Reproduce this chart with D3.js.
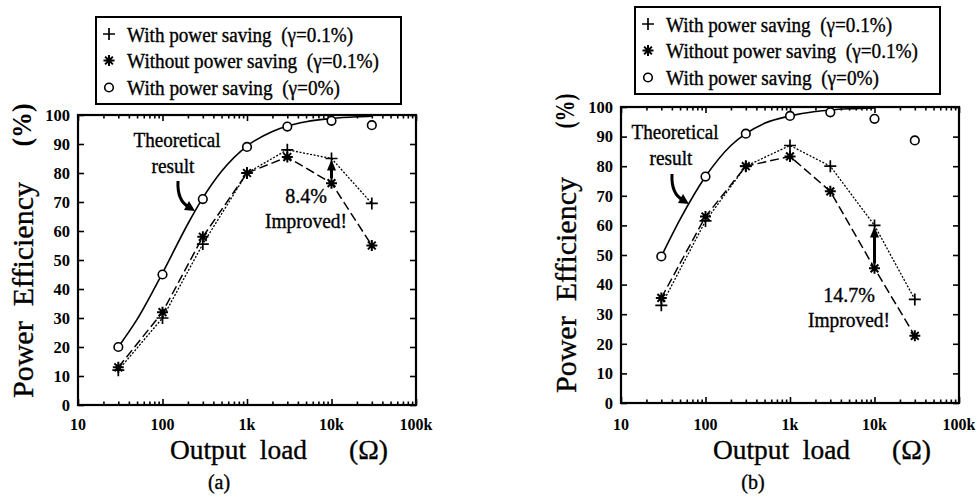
<!DOCTYPE html>
<html>
  <head>
    <meta charset="utf-8">
    <title>Power efficiency vs output load</title>
    <script src="https://d3js.org/d3.v7.min.js"></script>
    <style>
      body { margin: 0; background: #fff; }
      svg { display: block; }
      text { white-space: pre; }
    </style>
  </head>
  <body>
    <svg></svg>

    <script>
      // cargas medidas (ohm)
      const loads = [30, 100, 300, 1000, 3000, 10000, 30000]

      // painel (a)
      const aWith = [12, 30, 55.5, 80, 88, 85, 69.5]
      const aWithout = [13, 32, 58, 80, 85.5, 76.5, 55]
      const aIdeal = [20, 45, 71, 89, 96, 98, 96.5]
      const aTheoryLoads = [30, 50, 100, 200, 300, 500, 1000, 2000, 3000, 5000, 10000, 20000, 30000]
      const aTheory = [20, 29.5, 45.5, 62.5, 71.4, 80.6, 89.3, 94.3, 96.2, 97.7, 98.8, 99.4, 99.6]

      // painel (b)
      const bWith = [33, 61.5, 80, 87, 80, 60, 35]
      const bWithout = [35.5, 63, 80, 83.3, 71.5, 45.5, 22.7]
      const bIdeal = [49.5, 76.5, 91, 97, 98.2, 96, 88.7]
      const bTheoryLoads = [30, 50, 100, 200, 300, 500, 1000, 2000, 3000, 5000, 10000]
      const bTheory = [49.5, 62, 76.5, 87, 91, 94.5, 97, 98.5, 99, 99.4, 99.7]

      // rótulos
      const xTickValues = [10, 100, 1000, 10000, 100000]
      const xTickLabels = ['10', '100', '1k', '10k', '100k']
      const yTickValues = [0, 10, 20, 30, 40, 50, 60, 70, 80, 90, 100]
      const legendLabels = [
        'With power saving  (\u03b3=0.1%)',
        'Without power saving  (\u03b3=0.1%)',
        'With power saving  (\u03b3=0%)'
      ]

      const FONT = 'Liberation Serif'

      const svg = d3.select('svg')
        .attr('width', 979)
        .attr('height', 497)

      // todo texto passa por aqui para garantir a fonte
      function label(g, s, size, bold) {
        const t = g.append('text')
          .attr('font-family', FONT)
          .attr('font-size', size)
          .attr('font-weight', bold ? 'bold' : 'normal')
          .attr('fill', '#000')
          .text(s)
        // o original é uma figura escaneada, com traço mais pesado
        if (!bold) t.attr('stroke', '#000').attr('stroke-width', 0.35)
        return t
      }

      // marcadores
      function plus(g, x, y) {
        g.append('path')
          .attr('d', `M${x - 6},${y}H${x + 6}M${x},${y - 6}V${y + 6}`)
          .attr('stroke', '#000').attr('stroke-width', 1.7)
      }
      function star(g, x, y) {
        const r = 5.5, s = r * Math.SQRT1_2
        g.append('path')
          .attr('d', `M${x - r},${y}H${x + r}M${x},${y - r}V${y + r}` +
            `M${x - s},${y - s}L${x + s},${y + s}M${x - s},${y + s}L${x + s},${y - s}`)
          .attr('stroke', '#000').attr('stroke-width', 2)
      }
      function circle(g, x, y) {
        g.append('circle')
          .attr('cx', x).attr('cy', y).attr('r', 4.3)
          .attr('fill', '#fff').attr('stroke', '#000').attr('stroke-width', 1.6)
      }

      function panel(p) {
        const x = d3.scaleLog().domain([10, 100000]).range([p.left, p.right])
        const y = d3.scaleLinear().domain([0, 100]).range([p.bottom, p.top])
        const g = svg.append('g')

        // ticks (todos para dentro)
        const minor = x.ticks().filter(v => !xTickValues.includes(v))
        g.append('g').attr('transform', `translate(0,${p.bottom})`)
          .call(d3.axisBottom(x).tickValues(minor).tickSize(-3.5).tickFormat(''))
        g.append('g').attr('transform', `translate(0,${p.bottom})`)
          .call(d3.axisBottom(x).tickValues(xTickValues).tickSize(-6).tickFormat(''))
        g.append('g').attr('transform', `translate(0,${p.top})`)
          .call(d3.axisTop(x).tickValues(minor).tickSize(-3.5).tickFormat(''))
        g.append('g').attr('transform', `translate(0,${p.top})`)
          .call(d3.axisTop(x).tickValues(xTickValues).tickSize(-6).tickFormat(''))
        g.append('g').attr('transform', `translate(${p.left},0)`)
          .call(d3.axisLeft(y).tickValues(yTickValues).tickSize(-6).tickFormat(''))
        g.append('g').attr('transform', `translate(${p.right},0)`)
          .call(d3.axisRight(y).tickValues(yTickValues).tickSize(-6).tickFormat(''))
        g.selectAll('.domain').remove()
        g.selectAll('.tick line').attr('stroke', '#000').attr('stroke-width', 1.6)

        g.append('rect')
          .attr('x', p.left).attr('y', p.top)
          .attr('width', p.right - p.left).attr('height', p.bottom - p.top)
          .attr('fill', 'none').attr('stroke', '#000').attr('stroke-width', 2.2)

        // rótulos dos ticks
        xTickValues.forEach((v, i) => {
          label(g, xTickLabels[i], 16, true)
            .attr('x', x(v)).attr('y', 430)
            .attr('text-anchor', 'middle')
        })
        yTickValues.forEach(v => {
          label(g, String(v), 16.5, true)
            .attr('x', p.left - 8).attr('y', y(v)).attr('dy', '0.35em')
            .attr('text-anchor', 'end')
        })

        // curva teórica
        g.append('path')
          .datum(p.theoryLoads.map((l, i) => [l, p.theory[i]]))
          .attr('d', d3.line().x(d => x(d[0])).y(d => y(d[1])).curve(d3.curveMonotoneX))
          .attr('fill', 'none').attr('stroke', '#000').attr('stroke-width', 1.6)

        const line = d3.line().x((d, i) => x(loads[i])).y(d => y(d))
        g.append('path').datum(p.with)
          .attr('d', line)
          .attr('fill', 'none').attr('stroke', '#000').attr('stroke-width', 1.3)
          .attr('stroke-dasharray', '2,1.6')
        g.append('path').datum(p.without)
          .attr('d', line)
          .attr('fill', 'none').attr('stroke', '#000').attr('stroke-width', 1.5)
          .attr('stroke-dasharray', '9,4')

        p.with.forEach((v, i) => plus(g, x(loads[i]), y(v)))
        p.without.forEach((v, i) => star(g, x(loads[i]), y(v)))
        p.ideal.forEach((v, i) => circle(g, x(loads[i]), y(v)))

        // seta de melhoria em 10k
        const xi = x(10000)
        const y0 = y(p.without[5]) - 5, y1 = y(p.with[5]) + 1
        g.append('line')
          .attr('x1', xi).attr('x2', xi).attr('y1', y0).attr('y2', y1 + 9)
          .attr('stroke', '#000').attr('stroke-width', 3)
        g.append('path')
          .attr('d', `M${xi},${y1}L${xi - 4.5},${y1 + 11}L${xi + 4.5},${y1 + 11}Z`)
          .attr('fill', '#000')

        // textos internos
        label(g, 'Theoretical', 20)
          .attr('x', p.theo[0]).attr('y', p.theo[1]).attr('text-anchor', 'middle')
          .attr('textLength', 87).attr('lengthAdjust', 'spacingAndGlyphs')
        label(g, 'result', 20)
          .attr('x', p.theo[0] - 4).attr('y', p.theo[1] + 26).attr('text-anchor', 'middle')
          .attr('textLength', 43).attr('lengthAdjust', 'spacingAndGlyphs')
        label(g, p.impText, 20)
          .attr('x', p.imp[0]).attr('y', p.imp[1]).attr('text-anchor', 'middle')
        label(g, 'Improved!', 20)
          .attr('x', p.imp[0]).attr('y', p.imp[1] + 25).attr('text-anchor', 'middle')
          .attr('textLength', 82).attr('lengthAdjust', 'spacingAndGlyphs')

        // seta curva do "result"
        const [ax, ay] = p.curl
        g.append('path')
          .attr('d', `M${ax},${ay}Q${ax - 1},${ay + 20} ${ax + 11},${ay + 26}`)
          .attr('fill', 'none').attr('stroke', '#000').attr('stroke-width', 3)
        g.append('path')
          .attr('d', `M${ax + 17},${ay + 30}L${ax + 6},${ay + 29}L${ax + 11},${ay + 20}Z`)
          .attr('fill', '#000')

        // títulos dos eixos
        label(g, 'Power  Efficiency', 30)
          .attr('transform', `translate(${p.yTitle[0]},${p.yTitle[1]}) rotate(-90)`)
          .attr('text-anchor', 'middle')
          .attr('textLength', 216).attr('lengthAdjust', 'spacingAndGlyphs')
        label(g, '(%)', 27, true)
          .attr('transform', `translate(${p.yUnit[0]},${p.yUnit[1]}) rotate(-90)`)
          .attr('text-anchor', 'middle')
          .attr('textLength', p.yUnit[2]).attr('lengthAdjust', 'spacingAndGlyphs')
        label(g, 'Output  load', 28)
          .attr('x', p.xTitle).attr('y', 459)
          .attr('textLength', 137).attr('lengthAdjust', 'spacingAndGlyphs')
        label(g, '(\u03a9)', 28)
          .attr('x', p.xTitle + 179).attr('y', 459)
          .attr('textLength', 39).attr('lengthAdjust', 'spacingAndGlyphs')
        label(g, p.captionText, 20)
          .attr('x', p.caption).attr('y', 489).attr('text-anchor', 'middle')

        // legenda
        const lg = g.append('g').attr('transform', `translate(${p.legend[0]},${p.legend[1]})`)
        lg.append('rect')
          .attr('width', 305).attr('height', 87)
          .attr('fill', '#fff').attr('stroke', '#000').attr('stroke-width', 2)
        const widths = [226, 252, 213]
        legendLabels.forEach((s, i) => {
          label(lg, s, 20)
            .attr('x', 31).attr('y', 24.5 + i * 26.5)
            .attr('textLength', widths[i]).attr('lengthAdjust', 'spacingAndGlyphs')
        })
        plus(lg, 13, 17)
        star(lg, 13, 43.5)
        circle(lg, 13, 70.5)
      }

      panel({
        left: 78, right: 416, top: 115, bottom: 405,
        with: aWith, without: aWithout, ideal: aIdeal,
        theoryLoads: aTheoryLoads, theory: aTheory,
        theo: [177, 147], imp: [306, 203], impText: '8.4%',
        curl: [178, 181],
        yTitle: [33, 290], yUnit: [31, 125, 43],
        xTitle: 170, caption: 219, captionText: '(a)',
        legend: [96, 17]
      })

      panel({
        left: 621, right: 959, top: 107, bottom: 403,
        with: bWith, without: bWithout, ideal: bIdeal,
        theoryLoads: bTheoryLoads, theory: bTheory,
        theo: [675, 139], imp: [849, 302], impText: '14.7%',
        curl: [672, 174],
        yTitle: [576, 285], yUnit: [574, 111, 35],
        xTitle: 713, caption: 753, captionText: '(b)',
        legend: [635, 7]
      })
    </script>
  </body>
</html>
